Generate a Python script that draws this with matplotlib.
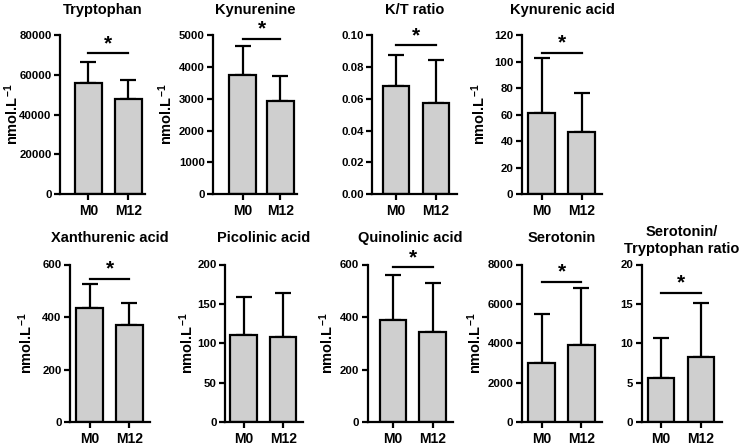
import numpy as np
import matplotlib
matplotlib.use('Agg')
import matplotlib.pyplot as plt

plt.rcParams['font.family'] = 'Liberation Sans'
plt.rcParams['font.weight'] = 'bold'
plt.rcParams['axes.titleweight'] = 'bold'
plt.rcParams['axes.labelweight'] = 'bold'
plt.rcParams['mathtext.fontset'] = 'custom'
plt.rcParams['mathtext.rm'] = 'Liberation Sans:bold'
plt.rcParams['mathtext.it'] = 'Liberation Sans:bold'
plt.rcParams['mathtext.bf'] = 'Liberation Sans:bold'

# data
groups = ['M0', 'M12']
titles = ['Tryptophan', 'Kynurenine', 'K/T ratio', 'Kynurenic acid',
          'Xanthurenic acid', 'Picolinic acid', 'Quinolinic acid',
          'Serotonin', 'Serotonin/\nTryptophan ratio']
mean_m0 = [56200, 3760, 0.068, 61.4, 433, 111, 387, 2977, 5.54]
mean_m12 = [47900, 2941, 0.0573, 46.7, 369, 108.5, 344, 3890, 8.27]
sd_m0 = [10400, 914, 0.020, 41.4, 94, 47.7, 172, 2520, 5.16]
sd_m12 = [9500, 788, 0.027, 29.6, 86, 54.9, 185, 2909, 6.89]
sig_y = [71100, 4895, 0.094, 106.9, 546, None, 590, 7120, 16.4]
y_max = [80000, 5000, 0.10, 120, 600, 200, 600, 8000, 20]
y_step = [20000, 1000, 0.02, 20, 200, 50, 200, 2000, 5]
has_ylabel = [True, True, False, True, True, True, True, True, False]

# layout in pixels: spine x, axis end x, bottom y, top y
W, H = 740, 445
boxes = [(60, 145, 194, 35.5), (213.3, 297, 194, 35.5), (372.3, 456.7, 194, 35.5),
         (521.7, 602.3, 194, 35.5), (70, 150, 422, 264.5), (225, 302.7, 422, 264.5),
         (367.7, 453, 422, 264.5), (521.7, 601.7, 422, 264.5), (641.7, 721.7, 422, 264.5)]
xlims = [(-0.71, 1.42), (-0.79, 1.45), (-0.59, 1.52), (-0.5, 1.51), (-0.5, 1.52),
         (-0.48, 1.50), (-0.64, 1.51), (-0.51, 1.52), (-0.48, 1.52)]
label_cx = [14.5, 168, None, 481, 28, 189, 329, 476.5, None]
title_pad = [15.5, 15.5, 15.5, 15.5, 16.5, 16.5, 16.5, 16.5, 8]

fig = plt.figure(figsize=(W / 100, H / 100), dpi=100)
x = np.arange(2)

for i in range(9):
    x0, x1, yb, yt = boxes[i]
    ax = fig.add_axes([x0 / W, 1 - yb / H, (x1 - x0) / W, (yb - yt) / H])
    xl = xlims[i]
    bw = 26.7 / ((x1 - x0) / (xl[1] - xl[0]))
    means = [mean_m0[i], mean_m12[i]]
    sds = [sd_m0[i], sd_m12[i]]
    ax.bar(x, means, width=bw, color='#cfcfcf', edgecolor='black', linewidth=1.6, zorder=2)
    ax.errorbar(x, means, yerr=[[0, 0], sds], fmt='none', ecolor='black',
                elinewidth=1.6, capsize=5.5, capthick=1.6, zorder=1)
    if sig_y[i] is not None:
        ax.plot([0, 1], [sig_y[i], sig_y[i]], color='black', lw=1.6, clip_on=False)
        ax.text(0.5, sig_y[i], '*', ha='center', va='bottom', fontsize=15,
                fontweight='bold', clip_on=False)
    ax.set_xlim(*xl)
    ax.set_ylim(0, y_max[i])
    ticks = np.arange(0, y_max[i] + y_step[i] / 2, y_step[i])
    ax.set_yticks(ticks)
    if i == 2:
        ax.set_yticklabels([f'{t:.2f}' for t in ticks], fontweight='bold')
    else:
        ax.set_yticklabels([f'{t:g}' for t in ticks], fontweight='bold')
    ax.set_xticks(x)
    ax.set_xticklabels(groups, fontweight='bold')
    ax.spines['top'].set_visible(False)
    ax.spines['right'].set_visible(False)
    ax.spines['left'].set_linewidth(1.6)
    ax.spines['bottom'].set_linewidth(1.6)
    ax.tick_params(axis='y', length=4.5, width=1.6, pad=1.5, labelsize=8.2)
    ax.tick_params(axis='x', length=4, width=1.6, pad=3, labelsize=10)
    if has_ylabel[i]:
        ax.set_ylabel('nmol.L$^{-1}$', fontsize=10.5)
        ax.yaxis.set_label_coords((label_cx[i] + 7 - x0) / (x1 - x0), 0.5)
    ax.set_title(titles[i], fontsize=10.5, pad=title_pad[i], linespacing=1.3)

fig.savefig('out.png', dpi=100)
